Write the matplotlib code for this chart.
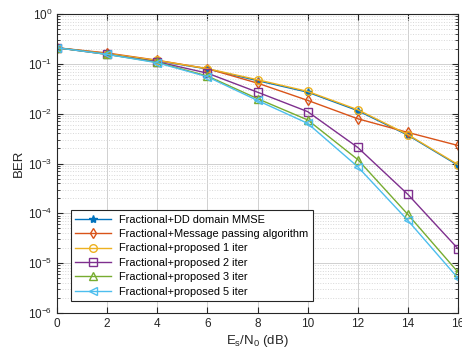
import matplotlib
matplotlib.use("Agg")
import matplotlib.pyplot as plt
import numpy as np

plt.rcParams["font.family"] = ["Liberation Sans", "DejaVu Sans"]
plt.rcParams["mathtext.fontset"] = "custom"
plt.rcParams["mathtext.rm"] = "Liberation Sans"
plt.rcParams["mathtext.it"] = "Liberation Sans"

snr_db = [0, 2, 4, 6, 8, 10, 12, 14, 16]

ber_dd_mmse = [0.21, 0.16, 0.115, 0.079, 0.046, 0.027, 0.0115, 0.0037, 0.00092]
ber_msg_passing = [0.21, 0.165, 0.118, 0.08, 0.041, 0.0185, 0.0079, 0.0042, 0.0023]
ber_prop_1 = [0.21, 0.16, 0.117, 0.08, 0.048, 0.028, 0.012, 0.0038, 0.00095]
ber_prop_2 = [0.21, 0.155, 0.11, 0.065, 0.027, 0.011, 0.0021, 0.00024, 1.95e-5]
ber_prop_3 = [0.21, 0.155, 0.107, 0.057, 0.02, 0.0075, 0.0012, 9.5e-5, 6.6e-6]
ber_prop_5 = [0.21, 0.155, 0.105, 0.055, 0.0184, 0.0064, 0.00086, 7.2e-5, 5e-6]

labels = ["Fractional+DD domain MMSE",
          "Fractional+Message passing algorithm",
          "Fractional+proposed 1 iter",
          "Fractional+proposed 2 iter",
          "Fractional+proposed 3 iter",
          "Fractional+proposed 5 iter"]

series = [ber_dd_mmse, ber_msg_passing, ber_prop_1, ber_prop_2, ber_prop_3, ber_prop_5]
colors = ["#0072BD", "#D95319", "#EDB120", "#7E2F8E", "#77AC30", "#4DBEEE"]
markers = ["*", "d", "o", "s", "^", "<"]

fig = plt.figure(figsize=(4.62, 3.54), dpi=100)
ax = fig.add_axes([57 / 462, 41 / 354, 401 / 462, 299 / 354])

for ber, c, m, lab in zip(series, colors, markers, labels):
    if m == "*":
        ax.semilogy(snr_db, ber, color=c, marker=m, markersize=6, linewidth=1.0, label=lab)
    else:
        ax.semilogy(snr_db, ber, color=c, marker=m, markersize=5.5, linewidth=1.0,
                    markerfacecolor="none", markeredgewidth=1.0, label=lab)

ax.set_xlim(0, 16)
ax.set_ylim(1e-6, 1)
ax.set_xticks(np.arange(0, 17, 2))
ax.set_yticks([1e-6, 1e-5, 1e-4, 1e-3, 1e-2, 1e-1, 1e0])

ax.grid(True, which="major", color="#d0d0d0", linewidth=0.7)
ax.grid(True, which="minor", color="#d8d8d8", linestyle=":", linewidth=0.7)
ax.tick_params(which="both", direction="in", top=True, right=True, labelsize=8.5,
               colors="#262626")
ax.tick_params(which="major", length=4)
ax.tick_params(which="minor", length=2)
for s in ax.spines.values():
    s.set_color("#262626")
    s.set_linewidth(0.8)

ax.set_xlabel(r"E$_s$/N$_0$ (dB)", fontsize=9.5, color="#262626", labelpad=2)
ax.set_ylabel("BER", fontsize=9.5, color="#262626", labelpad=2)

leg = ax.legend(loc="lower left", fontsize=7.9, frameon=True, fancybox=False,
                edgecolor="#262626", framealpha=1, handlelength=3.2,
                borderaxespad=0.0, labelspacing=0.4, borderpad=0.4,
                bbox_to_anchor=(0.035, 0.04))
leg.get_frame().set_linewidth(0.8)

fig.savefig("out.png", dpi=100)
